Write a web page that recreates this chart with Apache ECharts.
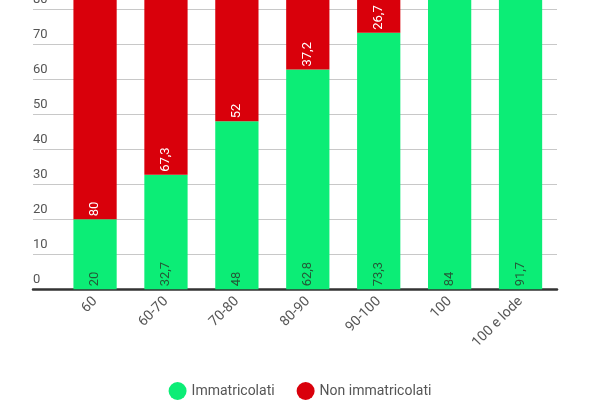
<!DOCTYPE html>
<html>
<head>
<meta charset="utf-8">
<script src="https://cdn.jsdelivr.net/npm/echarts@6/dist/echarts.min.js"></script>
<style>
  html, body { margin: 0; padding: 0; background: #fff; }
  #chart { width: 600px; height: 400px; }
</style>
</head>
<body>
<div id="chart"></div>
<script>
// fasce di voto
const categories = ['60', '60-70', '70-80', '80-90', '90-100', '100', '100 e lode'];
const immatricolati = [20, 32.7, 48, 62.8, 73.3, 84, 91.7];
const nonImmatricolati = [80, 67.3, 52, 37.2, 26.7, 16, 8.3];
const yTicks = { min: 0, max: 100, interval: 10 };

const GREEN = '#0ced76';
const RED = '#d9000b';
const TEXT = '#555';

// virgola come separatore decimale
const fmt = p => String(p.value).replace('.', ',');

const chart = echarts.init(document.getElementById('chart'));

// il grafico originale è tagliato in alto
const gridTop = -60.7, gridBottom = 110.7;

chart.setOption({
  animation: false,
  textStyle: { fontFamily: 'Roboto' },
  grid: [
    // griglia larga: linee orizzontali + etichette asse y
    { left: 33, right: 43, top: gridTop, bottom: gridBottom, outerBoundsMode: 'none', containLabel: false },
    // griglia delle barre
    { left: 59.6, right: 44, top: gridTop, bottom: gridBottom, outerBoundsMode: 'none', containLabel: false }
  ],
  legend: {
    top: 377,
    left: 'center',
    icon: 'circle',
    itemWidth: 18,
    itemHeight: 18,
    itemGap: 22,
    textStyle: { color: TEXT, fontSize: 14, fontFamily: 'Roboto' },
    data: ['Immatricolati', 'Non immatricolati']
  },
  xAxis: [
    {
      gridIndex: 0,
      type: 'category',
      data: categories,
      axisLine: { lineStyle: { color: '#333', width: 2.5 } },
      axisTick: { show: false },
      axisLabel: { show: false }
    },
    {
      gridIndex: 1,
      type: 'category',
      data: categories,
      axisLine: { show: false },
      axisTick: { show: false },
      axisLabel: { rotate: 45, color: TEXT, fontSize: 14, margin: 10, interval: 0 }
    }
  ],
  yAxis: [
    {
      gridIndex: 0,
      type: 'value',
      min: yTicks.min,
      max: yTicks.max,
      interval: yTicks.interval,
      axisLine: { show: false },
      axisTick: { show: false },
      splitLine: { lineStyle: { color: '#c8c8c8', width: 1 } },
      axisLabel: {
        inside: true,
        margin: 0,
        align: 'left',
        verticalAlign: 'bottom',
        padding: [0, 0, 3, 0],
        color: TEXT,
        fontSize: 13
      }
    },
    {
      gridIndex: 1,
      type: 'value',
      min: yTicks.min,
      max: yTicks.max,
      interval: yTicks.interval,
      show: false
    }
  ],
  series: [
    {
      name: 'Immatricolati',
      type: 'bar',
      stack: 'tot',
      xAxisIndex: 1,
      yAxisIndex: 1,
      barWidth: '61%',
      itemStyle: { color: GREEN },
      label: {
        show: true,
        position: 'insideBottom',
        rotate: 90,
        align: 'left',
        verticalAlign: 'middle',
        distance: 3,
        color: '#245a37',
        fontSize: 13,
        formatter: fmt
      },
      data: immatricolati
    },
    {
      name: 'Non immatricolati',
      type: 'bar',
      stack: 'tot',
      xAxisIndex: 1,
      yAxisIndex: 1,
      barWidth: '61%',
      itemStyle: { color: RED },
      label: {
        show: true,
        position: 'insideBottom',
        rotate: 90,
        align: 'left',
        verticalAlign: 'middle',
        distance: 3,
        color: '#fff',
        fontSize: 13,
        formatter: fmt
      },
      data: nonImmatricolati
    }
  ]
});
</script>
</body>
</html>
